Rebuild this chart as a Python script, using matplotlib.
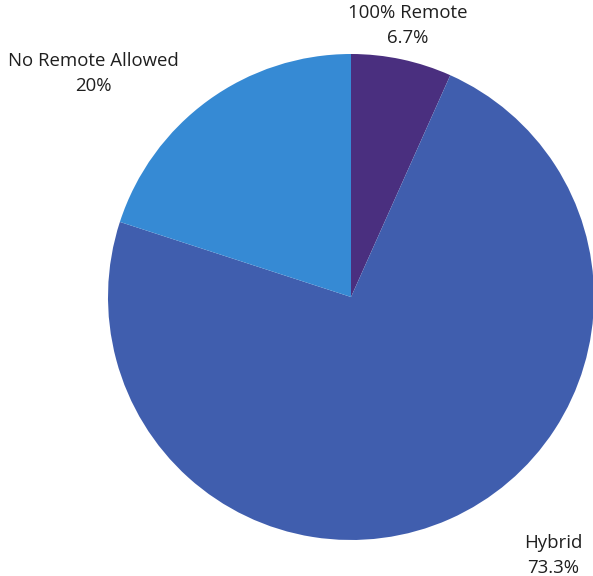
import matplotlib.pyplot as plt

categories = ["100% Remote", "Hybrid", "No Remote Allowed"]
shares = [6.7, 73.3, 20.0]
colors = ["#4a2f7f", "#405eae", "#368ad4"]

# where each label sits, in pie data units (radius = 1)
label_xy = [(0.235, 1.117), (0.831, -1.062), (-1.062, 0.92)]

plt.rcParams['font.family'] = ['Open Sans', 'DejaVu Sans']

fig = plt.figure(figsize=(5.93, 5.76), dpi=100)
ax = fig.add_axes([108 / 593, 36 / 576, 486 / 593, 486 / 576])

ax.pie(shares, colors=colors, startangle=90, counterclock=False,
       wedgeprops=dict(linewidth=0))
ax.set_xlim(-1, 1)
ax.set_ylim(-1, 1)
ax.set_aspect('equal')

for name, val, (x, y) in zip(categories, shares, label_xy):
    pct = f"{val:g}%"
    ax.text(x, y, f"{name}\n{pct}", ha='center', va='center', fontsize=13.4,
            color='#1f1f1f', linespacing=1.5, clip_on=False)

fig.savefig("out.png", dpi=100)
